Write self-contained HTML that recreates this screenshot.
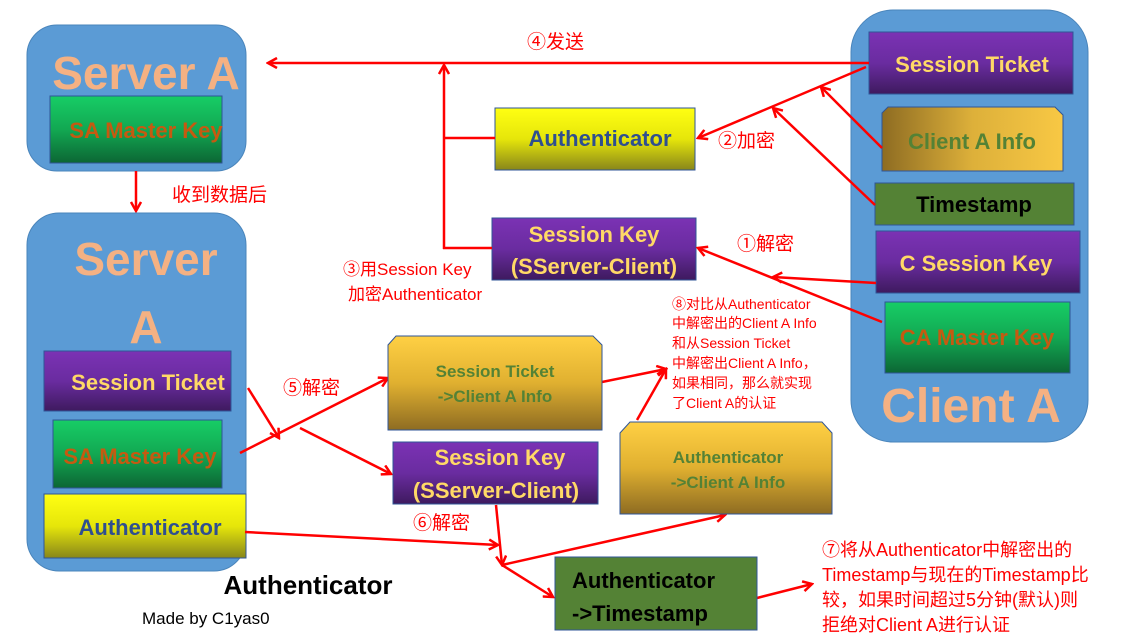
<!DOCTYPE html>
<html><head><meta charset="utf-8"><style>
body{margin:0;background:#fff;}
svg{display:block;font-family:"Liberation Sans","Noto Sans CJK SC",sans-serif;}
.b{font-weight:bold;}
</style></head><body>
<svg width="1125" height="634" viewBox="0 0 1125 634" xmlns="http://www.w3.org/2000/svg">
<defs>
<linearGradient id="pu" x1="0" y1="0" x2="0" y2="1"><stop offset="0" stop-color="#7B32B4"/><stop offset="0.5" stop-color="#6A2CA0"/><stop offset="1" stop-color="#3E1A5E"/></linearGradient>
<linearGradient id="gr" x1="0" y1="0" x2="0" y2="1"><stop offset="0" stop-color="#17CD66"/><stop offset="0.5" stop-color="#12A852"/><stop offset="1" stop-color="#0C6634"/></linearGradient>
<linearGradient id="ye" x1="0" y1="0" x2="0" y2="1"><stop offset="0" stop-color="#FFFF12"/><stop offset="0.5" stop-color="#E6E60A"/><stop offset="1" stop-color="#88861A"/></linearGradient>
<linearGradient id="go" x1="0" y1="0" x2="0" y2="1"><stop offset="0" stop-color="#FFD044"/><stop offset="0.5" stop-color="#E0B030"/><stop offset="1" stop-color="#8E6C22"/></linearGradient>
<linearGradient id="goh" x1="0" y1="0" x2="1" y2="0"><stop offset="0" stop-color="#8E6C22"/><stop offset="0.5" stop-color="#DDB03A"/><stop offset="1" stop-color="#F8C844"/></linearGradient>
<marker id="ar" markerWidth="12" markerHeight="12" refX="10" refY="6" orient="auto" markerUnits="userSpaceOnUse"><path d="M1,1 L10,6 L1,11" fill="none" stroke="#FF0000" stroke-width="2.5"/></marker>
</defs>

<!-- Server A top -->
<rect x="27" y="25" width="219" height="146" rx="30" fill="#5B9BD5" stroke="#4A85BB"/>
<text x="146" y="89" font-size="46" class="b" fill="#F4B183" text-anchor="middle">Server A</text>
<rect x="50" y="96" width="172" height="67" fill="url(#gr)" stroke="#2F5597"/>
<text x="146" y="138" font-size="22" class="b" fill="#C55A11" text-anchor="middle">SA Master Key</text>

<line x1="136" y1="171" x2="136" y2="211" stroke="#FF0000" stroke-width="2.5" marker-end="url(#ar)"/>
<text x="172" y="201" font-size="19" fill="#FF0000">收到数据后</text>

<!-- Server A bottom -->
<rect x="27" y="213" width="219" height="358" rx="32" fill="#5B9BD5" stroke="#4A85BB"/>
<text x="146" y="275" font-size="46" class="b" fill="#F4B183" text-anchor="middle">Server</text>
<text x="146" y="343" font-size="46" class="b" fill="#F4B183" text-anchor="middle">A</text>
<rect x="44" y="351" width="187" height="60" fill="url(#pu)" stroke="#2F5597"/>
<text x="148" y="390" font-size="22" class="b" fill="#FFD966" text-anchor="middle">Session Ticket</text>
<rect x="53" y="420" width="169" height="68" fill="url(#gr)" stroke="#2F5597"/>
<text x="140" y="464" font-size="22" class="b" fill="#C55A11" text-anchor="middle">SA Master Key</text>
<rect x="44" y="494" width="202" height="64" fill="url(#ye)" stroke="#2F5597"/>
<text x="150" y="535" font-size="22" class="b" fill="#2F4F8F" text-anchor="middle">Authenticator</text>

<text x="308" y="594" font-size="26" class="b" fill="#000" text-anchor="middle">Authenticator</text>
<text x="142" y="624" font-size="17" fill="#000">Made by C1yas0</text>

<!-- Client A -->
<rect x="851" y="10" width="237" height="432" rx="42" fill="#5B9BD5" stroke="#4A85BB"/>
<rect x="869" y="32" width="204" height="62" fill="url(#pu)" stroke="#2F5597"/>
<text x="972" y="72" font-size="22" class="b" fill="#FFD966" text-anchor="middle">Session Ticket</text>
<path d="M888,107 L1055,107 L1063,115 L1063,171 L882,171 L882,113 Z" fill="url(#goh)" stroke="#2F5597"/>
<text x="972" y="149" font-size="22" class="b" fill="#548235" text-anchor="middle">Client A Info</text>
<rect x="875" y="183" width="199" height="42" fill="#548235" stroke="#2F5597"/>
<text x="974" y="212" font-size="22" class="b" fill="#000" text-anchor="middle">Timestamp</text>
<rect x="876" y="231" width="204" height="62" fill="url(#pu)" stroke="#2F5597"/>
<text x="976" y="271" font-size="22" class="b" fill="#FFD966" text-anchor="middle">C Session Key</text>
<rect x="885" y="302" width="185" height="71" fill="url(#gr)" stroke="#2F5597"/>
<text x="977" y="345" font-size="22" class="b" fill="#C55A11" text-anchor="middle">CA Master Key</text>
<text x="971" y="422" font-size="48" class="b" fill="#F4B183" text-anchor="middle">Client A</text>

<!-- middle top -->
<rect x="495" y="108" width="200" height="62" fill="url(#ye)" stroke="#2F5597"/>
<text x="600" y="146" font-size="22" class="b" fill="#2F4F8F" text-anchor="middle">Authenticator</text>
<rect x="492" y="218" width="204" height="62" fill="url(#pu)" stroke="#2F5597"/>
<text x="594" y="242" font-size="22" class="b" fill="#FFD966" text-anchor="middle">Session Key</text>
<text x="594" y="274" font-size="22" class="b" fill="#FFD966" text-anchor="middle">(SServer-Client)</text>

<g stroke="#FF0000" stroke-width="2.5" fill="none">
<line x1="869" y1="63" x2="268" y2="63" marker-end="url(#ar)"/>
<line x1="444" y1="249" x2="444" y2="65" marker-end="url(#ar)"/>
<line x1="444" y1="138" x2="495" y2="138"/>
<line x1="443" y1="248" x2="492" y2="248"/>
<line x1="866" y1="67" x2="698" y2="138" marker-end="url(#ar)"/>
<line x1="882" y1="148" x2="821" y2="87" marker-end="url(#ar)"/>
<line x1="875" y1="205" x2="773" y2="108" marker-end="url(#ar)"/>
<line x1="876" y1="283" x2="773" y2="277" marker-end="url(#ar)"/>
<line x1="882" y1="322" x2="698" y2="248" marker-end="url(#ar)"/>
<!-- lower -->
<line x1="248" y1="388" x2="279" y2="438" marker-end="url(#ar)"/>
<line x1="240" y1="453" x2="388" y2="378" marker-end="url(#ar)"/>
<line x1="300" y1="428" x2="391" y2="474" marker-end="url(#ar)"/>
<line x1="245" y1="532" x2="498" y2="545" marker-end="url(#ar)"/>
<line x1="496" y1="505" x2="502" y2="565" marker-end="url(#ar)"/>
<line x1="502" y1="565" x2="725" y2="515" marker-end="url(#ar)"/>
<line x1="502" y1="565" x2="553" y2="597" marker-end="url(#ar)"/>
<line x1="602" y1="382" x2="666" y2="369" marker-end="url(#ar)"/>
<line x1="637" y1="420" x2="666" y2="369" marker-end="url(#ar)"/>
<line x1="757" y1="598" x2="812" y2="584" marker-end="url(#ar)"/>
</g>

<text x="527" y="48" font-size="19" fill="#FF0000">④发送</text>
<text x="718" y="147" font-size="19" fill="#FF0000">②加密</text>
<text x="737" y="250" font-size="19" fill="#FF0000">①解密</text>
<text x="343" y="275" font-size="17" fill="#FF0000">③用Session Key</text>
<text x="348" y="300" font-size="17" fill="#FF0000">加密Authenticator</text>
<text x="283" y="394" font-size="19" fill="#FF0000">⑤解密</text>
<text x="413" y="529" font-size="19" fill="#FF0000">⑥解密</text>

<!-- lower boxes -->
<path d="M396,336 L593,336 L602,345 L602,430 L388,430 L388,345 Z" fill="url(#go)" stroke="#2F5597"/>
<text x="495" y="377" font-size="17" class="b" fill="#548235" text-anchor="middle">Session Ticket</text>
<text x="495" y="402" font-size="17" class="b" fill="#548235" text-anchor="middle">->Client A Info</text>
<rect x="393" y="442" width="205" height="62" fill="url(#pu)" stroke="#2F5597"/>
<text x="500" y="465" font-size="22" class="b" fill="#FFD966" text-anchor="middle">Session Key</text>
<text x="496" y="498" font-size="22" class="b" fill="#FFD966" text-anchor="middle">(SServer-Client)</text>
<path d="M630,422 L822,422 L832,433 L832,514 L620,514 L620,433 Z" fill="url(#go)" stroke="#2F5597"/>
<text x="728" y="463" font-size="17" class="b" fill="#548235" text-anchor="middle">Authenticator</text>
<text x="728" y="488" font-size="17" class="b" fill="#548235" text-anchor="middle">->Client A Info</text>
<rect x="555" y="557" width="202" height="73" fill="#548235" stroke="#2F5597"/>
<text x="572" y="588" font-size="22" class="b" fill="#000">Authenticator</text>
<text x="572" y="621" font-size="22" class="b" fill="#000">->Timestamp</text>

<g font-size="14" fill="#FF0000">
<text x="672" y="309">⑧对比从Authenticator</text>
<text x="672" y="328">中解密出的Client A Info</text>
<text x="672" y="348">和从Session Ticket</text>
<text x="672" y="368">中解密出Client A Info，</text>
<text x="672" y="388">如果相同，那么就实现</text>
<text x="672" y="408">了Client A的认证</text>
</g>
<g font-size="18" fill="#FF0000">
<text x="822" y="556">⑦将从Authenticator中解密出的</text>
<text x="822" y="581">Timestamp与现在的Timestamp比</text>
<text x="822" y="606">较，如果时间超过5分钟(默认)则</text>
<text x="822" y="631">拒绝对Client A进行认证</text>
</g>
</svg>
</body></html>
